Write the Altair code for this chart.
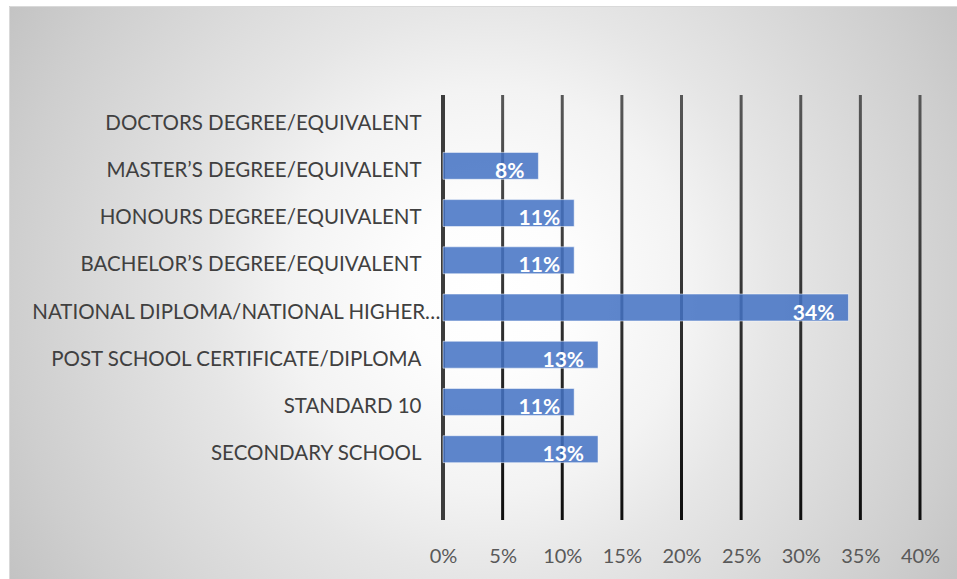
import altair as alt
import pandas as pd

categories = [
    "DOCTORS DEGREE/EQUIVALENT",
    "MASTER’S DEGREE/EQUIVALENT",
    "HONOURS DEGREE/EQUIVALENT",
    "BACHELOR’S DEGREE/EQUIVALENT",
    "NATIONAL DIPLOMA/NATIONAL HIGHER…",
    "POST SCHOOL CERTIFICATE/DIPLOMA",
    "STANDARD 10",
    "SECONDARY SCHOOL",
]
values = [0.0, 0.08, 0.11, 0.11, 0.34, 0.13, 0.11, 0.13]
x_ticks = [0, 0.05, 0.10, 0.15, 0.20, 0.25, 0.30, 0.35, 0.40]
blank = " "

W, H = 477, 425
L, T = 443, 95
FONT = "Lato"

df = pd.DataFrame({"cat": categories, "val": values})
grid_df = pd.DataFrame({"t": x_ticks[1:]})
zero_df = pd.DataFrame({"t": [0.0]})
one = pd.DataFrame({"a": [0]})

xscale = alt.Scale(domain=[0, 0.4], nice=False)
yscale = alt.Scale(domain=categories + [blank], paddingInner=0.43, paddingOuter=0.215)

# circular background gradient: square box centred on (490, 290), half side 481
CX, CY, S = 490, 290, 481
bg = alt.Chart(one).mark_rect(
    fill={
        "gradient": "radial",
        "x1": 0.5, "y1": 0.5, "r1": 0,
        "x2": 0.5, "y2": 0.5, "r2": 0.582,
        "stops": [
            {"offset": 0, "color": "#ffffff"},
            {"offset": 0.15, "color": "#fdfdfd"},
            {"offset": 0.36, "color": "#f3f3f3"},
            {"offset": 0.51, "color": "#e6e6e6"},
            {"offset": 0.86, "color": "#cecece"},
            {"offset": 1, "color": "#c3c3c3"},
        ],
    },
).encode(
    x=alt.value(CX - S - L), x2=alt.value(CX + S - L),
    y=alt.value(CY - S - T), y2=alt.value(CY + S - T),
)
top_mask = alt.Chart(one).mark_rect(fill="white").encode(
    x=alt.value(-L), x2=alt.value(957 - L), y=alt.value(-T), y2=alt.value(6 - T)
)
border = alt.Chart(one).mark_rect(fill=None, stroke="#d9d9d9", strokeWidth=1).encode(
    x=alt.value(9.5 - L), x2=alt.value(957.5 - L), y=alt.value(6.5 - T), y2=alt.value(579.5 - T)
)

grid = alt.Chart(grid_df).mark_rect(
    fill={
        "gradient": "linear",
        "x1": 0, "y1": 0, "x2": 0, "y2": 1,
        "stops": [
            {"offset": 0, "color": "#575757"},
            {"offset": 1, "color": "#0e0e0e"},
        ],
    },
    xOffset=-1.5, x2Offset=1.5,
).encode(
    x=alt.X("t:Q", scale=xscale, title=None,
            axis=alt.Axis(values=x_ticks, format=".0%", grid=False, domain=False,
                          ticks=False, labelFont=FONT, labelFontSize=20, zindex=2,
                          labelFlush=False, labelOverlap=False,
                          labelColor="#595959", labelPadding=26)),
    x2="t:Q",
    y=alt.value(0), y2=alt.value(H),
)

zero = alt.Chart(zero_df).mark_rect(color="#3c3c3c", xOffset=-2, x2Offset=2).encode(
    x=alt.X("t:Q", scale=xscale), x2="t:Q", y=alt.value(0), y2=alt.value(H)
)

bars = alt.Chart(df).transform_filter("datum.val > 0").mark_bar(
    color="#4472C4", fillOpacity=0.86, stroke="#ffffff", strokeOpacity=0.5, strokeWidth=1
).encode(
    x=alt.X("val:Q", scale=xscale),
    y=alt.Y("cat:N", scale=yscale, sort=None, title=None,
            axis=alt.Axis(domain=False, ticks=False, labelFont=FONT, labelFontSize=20.5,
                          labelColor="#404040", labelLimit=500, zindex=2, labelOffset=5,
                          labelPadding={"condition": {"test": "indexof(datum.value, 'NATIONAL') === 0", "value": 3}, "value": 22})),
)

labels = alt.Chart(df).transform_filter("datum.val > 0").mark_text(
    align="right", baseline="middle", dx=-14, dy=6, color="white",
    font=FONT, fontSize=21, fontWeight="bold",
).encode(
    x=alt.X("val:Q", scale=xscale),
    y=alt.Y("cat:N", scale=yscale, sort=None),
    text=alt.Text("val:Q", format=".0%"),
)

chart = alt.layer(bg, top_mask, border, grid, zero, bars, labels).properties(
    width=W, height=H,
    autosize=alt.AutoSizeParams(type="none"),
    padding={"left": L, "top": T, "right": 957 - L - W, "bottom": 579 - T - H},
    background="white",
).configure_view(stroke=None)

chart.save("out.html", embed_options={"renderer": "svg", "actions": False})
